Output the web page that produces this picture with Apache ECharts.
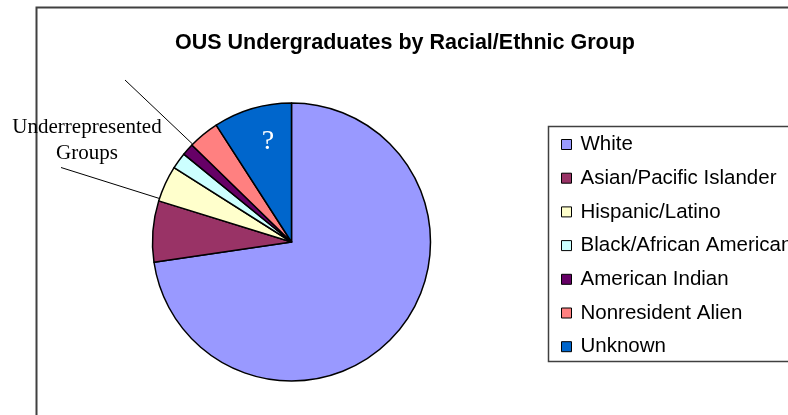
<!DOCTYPE html>
<html>
<head>
<meta charset="utf-8">
<script src="https://cdn.jsdelivr.net/npm/echarts@6/dist/echarts.min.js"></script>
<style>
html,body{margin:0;padding:0;background:#fff;}
#chart{width:788px;height:415px;}
</style>
</head>
<body>
<div id="chart"></div>
<script>
// Data (percent of undergraduates)
const categories = ['White','Asian/Pacific Islander','Hispanic/Latino','Black/African American','American Indian','Nonresident Alien','Unknown'];
const values = [72.6, 7.1, 4.2, 1.9, 1.4, 3.6, 9.1];
const colors = ['#9999FF','#993366','#FFFFCC','#CCFFFF','#660066','#FF8080','#0066CC'];
const titleText = 'OUS Undergraduates by Racial/Ethnic Group';
const annotationText = 'Underrepresented\nGroups';
const unknownMark = '?';

const chart = echarts.init(document.getElementById('chart'), null, {renderer:'canvas'});
const option = {
  animation: false,
  backgroundColor: '#ffffff',
  title: {
    text: titleText,
    left: 400, top: 27, textAlign: 'center',
    textStyle: {fontFamily: 'Liberation Sans, Arial, sans-serif', fontWeight: 'bold', fontSize: 21.5, color: '#000'}
  },
  legend: {
    orient: 'vertical',
    left: 556, top: 129,
    itemWidth: 10, itemHeight: 10,
    itemGap: 12.7,
    icon: 'rect',
    selectedMode: false,
    itemStyle: {borderColor: '#000', borderWidth: 1},
    textStyle: {fontFamily: 'Liberation Sans, Arial, sans-serif', fontSize: 20.5, lineHeight: 21, color: '#000', padding: [0,0,0,4]},
    data: categories
  },
  graphic: [
    {type: 'rect', z: -10, shape: {x: 36.5, y: 7.5, width: 900, height: 500}, style: {fill: '#fff', stroke: '#404040', lineWidth: 2}},
    {type: 'rect', z: -5, shape: {x: 548.5, y: 126.5, width: 300, height: 235}, style: {fill: '#fff', stroke: '#404040', lineWidth: 1.5}},
    {type: 'text', z: 10, x: 87, y: 140, style: {text: annotationText, fontFamily: 'Liberation Serif, Times New Roman, serif', fontSize: 21, lineHeight: 26, fill: '#000', align: 'center', verticalAlign: 'middle'}},
    {type: 'line', z: 10, shape: {x1: 125, y1: 80, x2: 192.5, y2: 144}, style: {stroke: '#000', lineWidth: 1}},
    {type: 'line', z: 10, shape: {x1: 61, y1: 167.5, x2: 159.5, y2: 198.5}, style: {stroke: '#000', lineWidth: 1}},
    {type: 'text', z: 10, x: 268, y: 142, style: {text: unknownMark, fontFamily: 'Liberation Serif, Times New Roman, serif', fontSize: 28, fill: '#fff', align: 'center', verticalAlign: 'middle'}}
  ],
  series: [{
    type: 'pie',
    center: [291.5, 242],
    radius: 139,
    startAngle: 90,
    clockwise: true,
    avoidLabelOverlap: false,
    label: {show: false},
    labelLine: {show: false},
    emphasis: {disabled: true},
    itemStyle: {borderColor: '#000', borderWidth: 1.5},
    data: categories.map((c, i) => ({name: c, value: values[i], itemStyle: {color: colors[i]}}))
  }]
};
chart.setOption(option);
</script>
</body>
</html>
